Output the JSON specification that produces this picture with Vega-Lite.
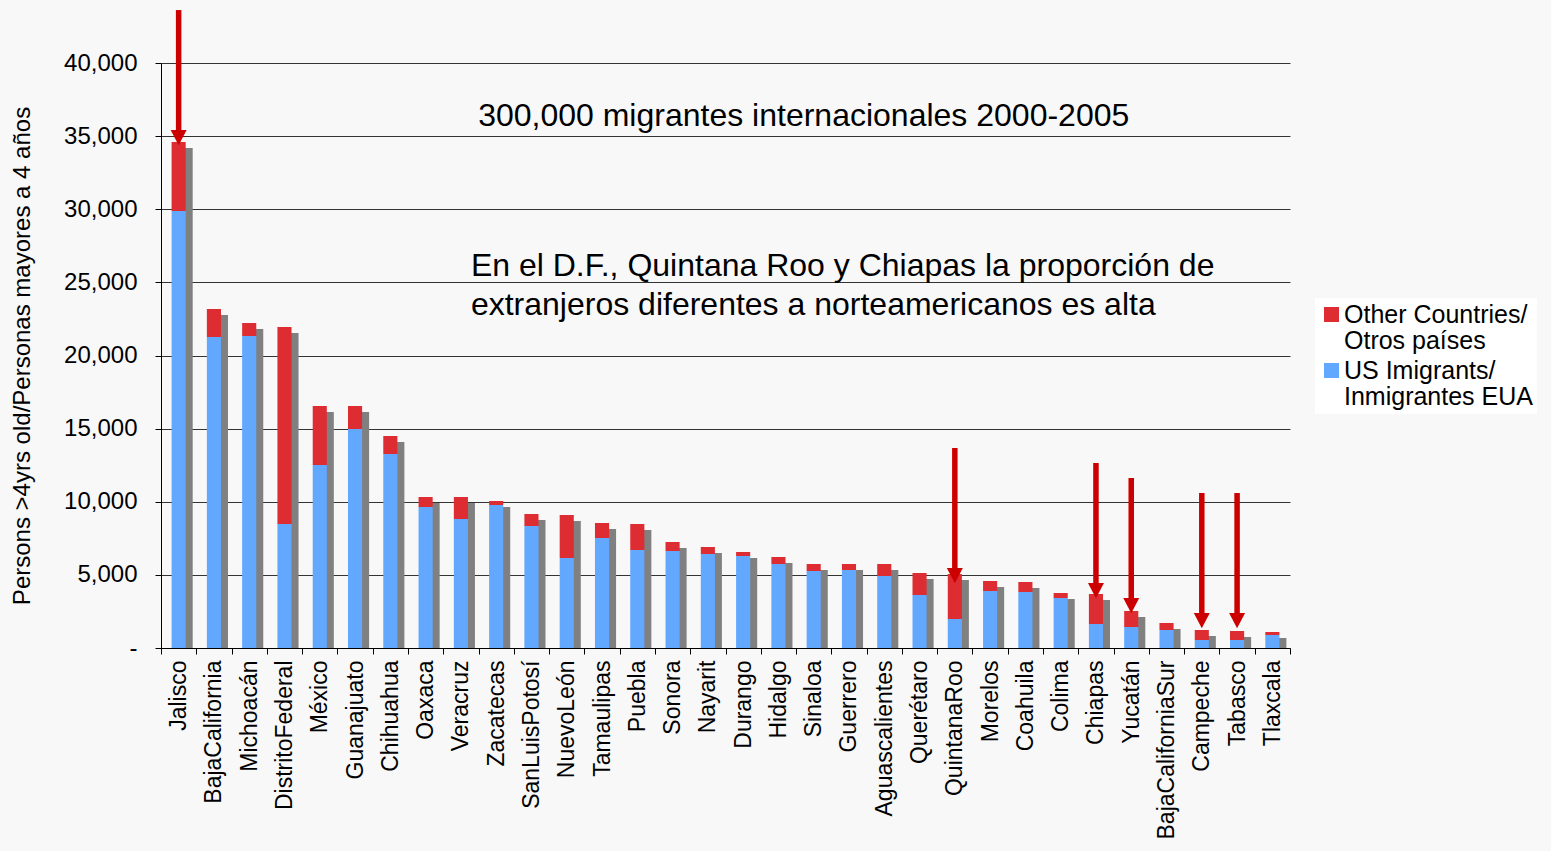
{
  "$schema": "https://vega.github.io/schema/vega-lite/v6.json",
  "width": 1129,
  "height": 585,
  "autosize": "none",
  "padding": {"left": 161, "top": 63, "right": 261, "bottom": 203},
  "background": "#f8f8f8",
  "config": {
    "font": "Liberation Sans",
    "view": {"stroke": null}
  },
  "datasets": {
    "main": [
      {"state": "Jalisco", "category": "US Imigrants/|Inmigrantes EUA", "value": 29880},
      {"state": "Jalisco", "category": "Other Countries/|Otros países", "value": 4720},
      {"state": "BajaCalifornia", "category": "US Imigrants/|Inmigrantes EUA", "value": 21265},
      {"state": "BajaCalifornia", "category": "Other Countries/|Otros países", "value": 1915},
      {"state": "Michoacán", "category": "US Imigrants/|Inmigrantes EUA", "value": 21333},
      {"state": "Michoacán", "category": "Other Countries/|Otros países", "value": 889},
      {"state": "DistritoFederal", "category": "US Imigrants/|Inmigrantes EUA", "value": 8478},
      {"state": "DistritoFederal", "category": "Other Countries/|Otros países", "value": 13471},
      {"state": "México", "category": "US Imigrants/|Inmigrantes EUA", "value": 12513},
      {"state": "México", "category": "Other Countries/|Otros países", "value": 4034},
      {"state": "Guanajuato", "category": "US Imigrants/|Inmigrantes EUA", "value": 14974},
      {"state": "Guanajuato", "category": "Other Countries/|Otros países", "value": 1573},
      {"state": "Chihuahua", "category": "US Imigrants/|Inmigrantes EUA", "value": 13265},
      {"state": "Chihuahua", "category": "Other Countries/|Otros países", "value": 1231},
      {"state": "Oaxaca", "category": "US Imigrants/|Inmigrantes EUA", "value": 9641},
      {"state": "Oaxaca", "category": "Other Countries/|Otros países", "value": 684},
      {"state": "Veracruz", "category": "US Imigrants/|Inmigrantes EUA", "value": 8821},
      {"state": "Veracruz", "category": "Other Countries/|Otros países", "value": 1504},
      {"state": "Zacatecas", "category": "US Imigrants/|Inmigrantes EUA", "value": 9778},
      {"state": "Zacatecas", "category": "Other Countries/|Otros países", "value": 273},
      {"state": "SanLuisPotosí", "category": "US Imigrants/|Inmigrantes EUA", "value": 8342},
      {"state": "SanLuisPotosí", "category": "Other Countries/|Otros países", "value": 820},
      {"state": "NuevoLeón", "category": "US Imigrants/|Inmigrantes EUA", "value": 6154},
      {"state": "NuevoLeón", "category": "Other Countries/|Otros países", "value": 2940},
      {"state": "Tamaulipas", "category": "US Imigrants/|Inmigrantes EUA", "value": 7521},
      {"state": "Tamaulipas", "category": "Other Countries/|Otros países", "value": 1026},
      {"state": "Puebla", "category": "US Imigrants/|Inmigrantes EUA", "value": 6701},
      {"state": "Puebla", "category": "Other Countries/|Otros países", "value": 1777},
      {"state": "Sonora", "category": "US Imigrants/|Inmigrantes EUA", "value": 6632},
      {"state": "Sonora", "category": "Other Countries/|Otros países", "value": 616},
      {"state": "Nayarit", "category": "US Imigrants/|Inmigrantes EUA", "value": 6427},
      {"state": "Nayarit", "category": "Other Countries/|Otros países", "value": 479},
      {"state": "Durango", "category": "US Imigrants/|Inmigrantes EUA", "value": 6290},
      {"state": "Durango", "category": "Other Countries/|Otros países", "value": 274},
      {"state": "Hidalgo", "category": "US Imigrants/|Inmigrantes EUA", "value": 5744},
      {"state": "Hidalgo", "category": "Other Countries/|Otros países", "value": 478},
      {"state": "Sinaloa", "category": "US Imigrants/|Inmigrantes EUA", "value": 5265},
      {"state": "Sinaloa", "category": "Other Countries/|Otros países", "value": 479},
      {"state": "Guerrero", "category": "US Imigrants/|Inmigrantes EUA", "value": 5333},
      {"state": "Guerrero", "category": "Other Countries/|Otros países", "value": 411},
      {"state": "Aguascalientes", "category": "US Imigrants/|Inmigrantes EUA", "value": 4923},
      {"state": "Aguascalientes", "category": "Other Countries/|Otros países", "value": 821},
      {"state": "Querétaro", "category": "US Imigrants/|Inmigrantes EUA", "value": 3624},
      {"state": "Querétaro", "category": "Other Countries/|Otros países", "value": 1504},
      {"state": "QuintanaRoo", "category": "US Imigrants/|Inmigrantes EUA", "value": 1983},
      {"state": "QuintanaRoo", "category": "Other Countries/|Otros países", "value": 3077},
      {"state": "Morelos", "category": "US Imigrants/|Inmigrantes EUA", "value": 3897},
      {"state": "Morelos", "category": "Other Countries/|Otros países", "value": 684},
      {"state": "Coahuila", "category": "US Imigrants/|Inmigrantes EUA", "value": 3829},
      {"state": "Coahuila", "category": "Other Countries/|Otros países", "value": 684},
      {"state": "Colima", "category": "US Imigrants/|Inmigrantes EUA", "value": 3419},
      {"state": "Colima", "category": "Other Countries/|Otros países", "value": 342},
      {"state": "Chiapas", "category": "US Imigrants/|Inmigrantes EUA", "value": 1641},
      {"state": "Chiapas", "category": "Other Countries/|Otros países", "value": 2051},
      {"state": "Yucatán", "category": "US Imigrants/|Inmigrantes EUA", "value": 1436},
      {"state": "Yucatán", "category": "Other Countries/|Otros países", "value": 1094},
      {"state": "BajaCaliforniaSur", "category": "US Imigrants/|Inmigrantes EUA", "value": 1231},
      {"state": "BajaCaliforniaSur", "category": "Other Countries/|Otros países", "value": 478},
      {"state": "Campeche", "category": "US Imigrants/|Inmigrantes EUA", "value": 547},
      {"state": "Campeche", "category": "Other Countries/|Otros países", "value": 684},
      {"state": "Tabasco", "category": "US Imigrants/|Inmigrantes EUA", "value": 547},
      {"state": "Tabasco", "category": "Other Countries/|Otros países", "value": 615},
      {"state": "Tlaxcala", "category": "US Imigrants/|Inmigrantes EUA", "value": 889},
      {"state": "Tlaxcala", "category": "Other Countries/|Otros países", "value": 205}
    ],
    "arrows": [
      {"state": "Jalisco", "start": 43620, "base": 35420},
      {"state": "QuintanaRoo", "start": 13675, "base": 5470},
      {"state": "Chiapas", "start": 12650, "base": 4445},
      {"state": "Yucatán", "start": 11624, "base": 3419},
      {"state": "Campeche", "start": 10600, "base": 2393},
      {"state": "Tabasco", "start": 10600, "base": 2393}
    ],
    "notes": [
      {"state": "Sinaloa", "y": 35700, "text": "300,000 migrantes internacionales 2000-2005", "kind": "title"},
      {"state": "Veracruz", "y": 25436, "text": "En el D.F., Quintana Roo y Chiapas la proporción de", "kind": "note"},
      {"state": "Veracruz", "y": 22769, "text": "extranjeros diferentes a norteamericanos es alta", "kind": "note"}
    ]
  },
  "encoding": {
    "x": {
      "field": "state",
      "type": "nominal",
      "sort": null,
      "scale": {
        "domain": ["Jalisco", "BajaCalifornia", "Michoacán", "DistritoFederal", "México", "Guanajuato", "Chihuahua", "Oaxaca", "Veracruz", "Zacatecas", "SanLuisPotosí", "NuevoLeón", "Tamaulipas", "Puebla", "Sonora", "Nayarit", "Durango", "Hidalgo", "Sinaloa", "Guerrero", "Aguascalientes", "Querétaro", "QuintanaRoo", "Morelos", "Coahuila", "Colima", "Chiapas", "Yucatán", "BajaCaliforniaSur", "Campeche", "Tabasco", "Tlaxcala"],
        "paddingInner": 0,
        "paddingOuter": 0
      },
      "axis": {
        "title": null,
        "labelAngle": -90,
        "labelAlign": "right",
        "labelBaseline": "middle",
        "labelFontSize": 23,
        "labelColor": "#000000",
        "labelPadding": 6,
        "tickSize": 6,
        "tickColor": "#000000",
        "tickBand": "extent",
        "domainColor": "#000000",
        "labelOverlap": false,
        "labelLimit": 300
      }
    }
  },
  "layer": [
    {
      "data": {"name": "main"},
      "mark": {"type": "bar", "color": "#808080", "width": {"band": 0.4}, "xOffset": 7, "yOffset": 6, "y2Offset": 6, "clip": true},
      "encoding": {
        "y": {
          "aggregate": "sum",
          "field": "value",
          "type": "quantitative",
          "scale": {"domain": [0, 40000], "nice": false},
          "axis": {
            "title": "Persons >4yrs old/Personas mayores a 4 años",
            "titleFontSize": 24,
            "titleFontWeight": "normal",
            "titleColor": "#000000",
            "titlePadding": 29,
            "values": [0, 5000, 10000, 15000, 20000, 25000, 30000, 35000, 40000],
            "labelExpr": "datum.value == 0 ? '-' : format(datum.value, ',')",
            "labelFontSize": 24,
            "labelColor": "#000000",
            "labelPadding": 18,
            "tickSize": 6,
            "tickColor": "#000000",
            "domainColor": "#000000",
            "grid": true,
            "gridColor": "#333333",
            "gridWidth": 1
          }
        }
      }
    },
    {
      "data": {"name": "main"},
      "mark": {"type": "bar", "width": {"band": 0.4}},
      "encoding": {
        "y": {"field": "value", "type": "quantitative", "stack": "zero"},
        "color": {
          "field": "category",
          "type": "nominal",
          "scale": {
            "domain": ["Other Countries/|Otros países", "US Imigrants/|Inmigrantes EUA"],
            "range": ["#de2c33", "#62a8ff"]
          },
          "legend": {
            "title": null,
            "orient": "none",
            "legendX": 1154,
            "legendY": 235,
            "fillColor": "#ffffff",
            "padding": 4,
            "symbolType": "square",
            "symbolSize": 225,
            "symbolStrokeWidth": 0,
            "labelFontSize": 25,
            "labelColor": "#000000",
            "labelLimit": 400,
            "labelOffset": 0,
            "labelExpr": "split(datum.label, '|')",
            "rowPadding": 4,
            "encode": {
              "labels": {"update": {"lineHeight": {"value": 26}}}
            }
          }
        },
        "order": {"field": "category", "sort": "descending"}
      }
    },
    {
      "data": {"name": "arrows"},
      "mark": {"type": "rule", "color": "#cc0000", "strokeWidth": 5.5},
      "encoding": {
        "y": {"field": "start", "type": "quantitative"},
        "y2": {"field": "base"}
      }
    },
    {
      "data": {"name": "arrows"},
      "mark": {"type": "point", "shape": "M-1,0L1,0L0,1.9Z", "size": 256, "filled": true, "color": "#cc0000", "opacity": 1},
      "encoding": {
        "y": {"field": "base", "type": "quantitative"}
      }
    },
    {
      "data": {"name": "notes"},
      "transform": [{"filter": "datum.kind == 'title'"}],
      "mark": {"type": "text", "fontSize": 32, "align": "center", "baseline": "alphabetic", "dx": -10, "color": "#000000"},
      "encoding": {
        "y": {"field": "y", "type": "quantitative"},
        "text": {"field": "text", "type": "nominal"}
      }
    },
    {
      "data": {"name": "notes"},
      "transform": [{"filter": "datum.kind == 'note'"}],
      "mark": {"type": "text", "fontSize": 32, "align": "left", "baseline": "alphabetic", "dx": 10, "color": "#000000"},
      "encoding": {
        "y": {"field": "y", "type": "quantitative"},
        "text": {"field": "text", "type": "nominal"}
      }
    }
  ]
}
